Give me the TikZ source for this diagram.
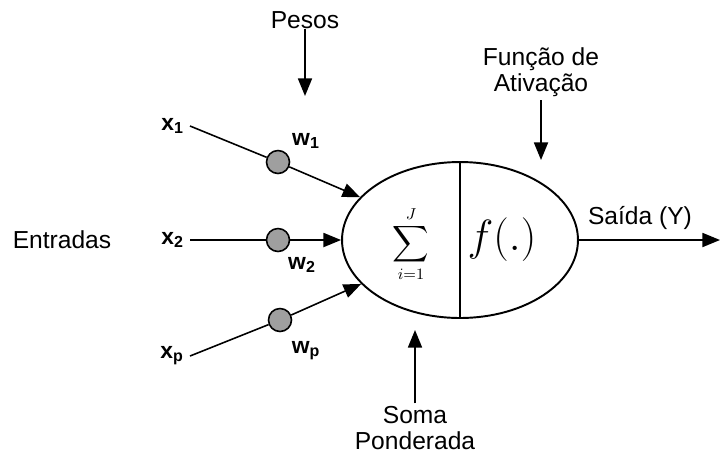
\documentclass[tikz,border=0pt]{standalone}
\usepackage{amsmath}
\usepackage[no-math]{fontspec}
\setmainfont{Liberation Sans}
\usetikzlibrary{arrows.meta,shapes.geometric}

\tikzset{
  peso/.style={circle, draw, fill=gray!75, minimum size=0.46cm, inner sep=0pt, line width=0.9pt},
  seta/.style={-{Triangle[length=10pt,width=8pt]}, line width=0.9pt},
  rotulo/.style={font=\fontsize{14}{14.5}\selectfont},
  entrada/.style={font=\fontsize{13}{14}\selectfont\bfseries}
}

\begin{document}
\begin{tikzpicture}[x=0.02cm,y=-0.02cm]
\useasboundingbox (0,0) rectangle (720,461);

% neuronio
\node[ellipse, draw, line width=1.1pt, minimum width=4.72cm, minimum height=3.12cm] (neuronio) at (460,240) {};
\draw[line width=1.1pt] (neuronio.north) -- (neuronio.south);
\node[inner sep=0pt] (soma) at (411,244) {\fontsize{13.5}{16}\selectfont$\displaystyle\sum_{i=1}^{J}$};
\node (ativ) at (502,240) {\fontsize{26}{30}\selectfont$f(.)$};

% entradas e pesos
\node[entrada, anchor=east] (x1) at (190,126) {x\textsubscript{1}};
\node[entrada, anchor=east] (x2) at (190,240) {x\textsubscript{2}};
\node[entrada, anchor=east] (xp) at (190,356) {x\textsubscript{p}};
\node[peso] (w1) at (278,162) {};
\node[peso] (w2) at (278,240) {};
\node[peso] (wp) at (280,320) {};
\node[entrada] (lw1) at (306,141) {w\textsubscript{1}};
\node[entrada] (lw2) at (302,265) {w\textsubscript{2}};
\node[entrada] (lwp) at (306,351) {w\textsubscript{p}};

\draw[line width=0.9pt] (x1.east) -- (w1);
\draw[line width=0.9pt] (x2.east) -- (w2);
\draw[line width=0.9pt] (xp.east) -- (wp);
\draw[seta] (w1) -- (neuronio);
\draw[seta] (w2) -- (neuronio);
\draw[seta] (wp) -- (neuronio);

\node[rotulo] (entradas) at (62,240) {Entradas};

% saida
\coordinate (y) at (720,240);
\draw[seta] (neuronio.east) -- (y);
\node[rotulo] (saida) at (640,218) {Saída (Y)};

% legendas
\node[rotulo] (pesos) at (305,20) {Pesos};
\coordinate (pesosfim) at (305,96);
\draw[seta] (pesos.south) ++(0,-6) -- (pesosfim);

\node[rotulo, align=center] (funcao) at (541,72) {Função de\\Ativação};
\coordinate (funcaofim) at (541,160);
\draw[seta] (funcao.south) ++(0,-2) -- (funcaofim);

\node[rotulo, align=center] (ponderada) at (415,428) {Soma\\Ponderada};
\coordinate (ponderadafim) at (415,330);
\draw[seta] (ponderada.north) ++(0,3) -- (ponderadafim);
\end{tikzpicture}
\end{document}
